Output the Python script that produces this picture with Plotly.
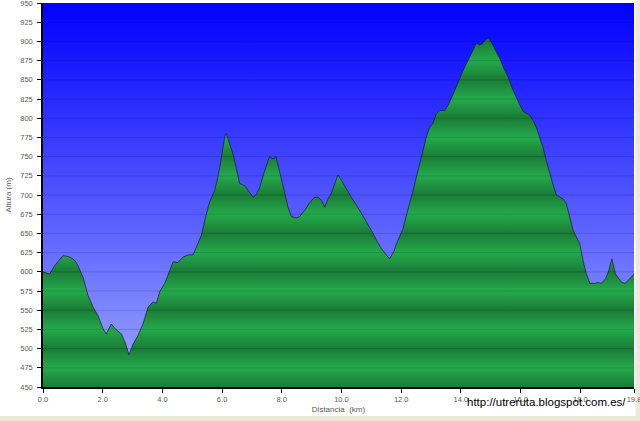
import plotly.graph_objects as go

# ---- data ----
distance_km = [0.0, 0.1, 0.22, 0.39, 0.55, 0.67, 0.84, 1.0, 1.1, 1.17, 1.34, 1.51, 1.68, 1.84,
               2.01, 2.12, 2.29, 2.44, 2.63, 2.77, 2.88, 3.02, 3.18, 3.35, 3.52, 3.69, 3.80,
               3.91, 4.08, 4.2, 4.36, 4.52, 4.69, 4.86, 5.03, 5.19, 5.31, 5.42, 5.58, 5.75,
               5.86, 5.98, 6.09, 6.14, 6.25, 6.39, 6.5, 6.59, 6.76, 6.87, 7.04, 7.15, 7.26,
               7.43, 7.59, 7.71, 7.80, 7.93, 8.1, 8.21, 8.32, 8.49, 8.6, 8.77, 8.93, 9.1,
               9.21, 9.33, 9.44, 9.55, 9.66, 9.77, 9.88, 10.0, 10.16, 10.33, 10.5, 10.67,
               10.83, 11.0, 11.17, 11.34, 11.48, 11.61, 11.75, 11.89, 12.06, 12.17, 12.28,
               12.4, 12.51, 12.62, 12.73, 12.84, 12.95, 13.06, 13.18, 13.29, 13.46, 13.57,
               13.68, 13.79, 13.96, 14.13, 14.3, 14.41, 14.52, 14.63, 14.72, 14.83, 14.92,
               15.02, 15.13, 15.3, 15.47, 15.58, 15.75, 15.91, 16.08, 16.3, 16.42, 16.53,
               16.64, 16.75, 16.86, 16.97, 17.09, 17.2, 17.31, 17.42, 17.53, 17.64, 17.76,
               17.87, 17.98, 18.09, 18.2, 18.32, 18.48, 18.59, 18.71, 18.85, 18.96, 19.06,
               19.17, 19.29, 19.4, 19.51, 19.6, 19.73, 19.8]
altitude_m = [600, 599, 597, 608, 616, 621, 620, 617, 613, 608, 593, 569, 554, 543,
              526, 519, 532, 525, 519, 506, 492, 506, 517, 532, 554, 561, 559,
              574, 585, 596, 613, 612, 619, 622, 622, 637, 648, 667, 691, 706,
              723, 750, 776, 780, 767, 750, 730, 715, 712, 706, 697, 701, 710,
              732, 750, 747, 750, 730, 703, 684, 672, 670, 672, 680, 690, 697,
              697, 693, 684, 695, 702, 715, 726, 719, 708, 697, 687, 676,
              665, 654, 641, 630, 623, 617, 626, 641, 656, 671, 689,
              706, 723, 741, 758, 775, 788, 793, 806, 810, 810, 817,
              826, 836, 852, 867, 880, 888, 898, 895, 897, 902, 904,
              899, 891, 878, 862, 854, 836, 823, 809, 804, 797, 788,
              776, 762, 745, 728, 713, 700, 697, 695, 689, 671, 654,
              645, 637, 615, 598, 585, 585, 586, 585, 591, 602, 617,
              598, 591, 586, 585, 589, 595, 597]

x_tickvals = [0, 2, 4, 6, 8, 10, 12, 14, 16, 18, 19.8]
x_ticktext = ["0.0", "2.0", "4.0", "6.0", "8.0", "10.0", "12.0", "14.0", "16.0", "18.0", "19.8"]
y_tickvals = list(range(450, 951, 25))

X_RANGE = [0, 19.8]
Y_RANGE = [450, 950]

# ---- styling ----
FONT = "Liberation Sans"
LABEL_COLOR = "#5a5a5a"
GREEN_DARK = "rgb(26,124,54)"
GREEN_LIGHT = "rgb(36,170,76)"
SKY_TOP = "rgb(0,0,255)"
SKY_BOTTOM = "rgb(158,168,255)"

W, H = 640, 421
ML, MR, MT, MB = 43, 6, 3, 34

span = Y_RANGE[1] - Y_RANGE[0]
band_scale = [[(v - Y_RANGE[0]) / span, GREEN_DARK if v % 50 == 0 else GREEN_LIGHT]
              for v in y_tickvals]

fig = go.Figure()

# sky background (gradient)
fig.add_trace(go.Scatter(
    x=[X_RANGE[0], X_RANGE[1], X_RANGE[1], X_RANGE[0], X_RANGE[0]],
    y=[Y_RANGE[0], Y_RANGE[0], Y_RANGE[1], Y_RANGE[1], Y_RANGE[0]],
    fill="toself", mode="none",
    fillgradient=dict(type="vertical", start=Y_RANGE[0], stop=Y_RANGE[1],
                      colorscale=[[0, SKY_BOTTOM], [1, SKY_TOP]]),
    hoverinfo="skip", showlegend=False))

# elevation profile
fig.add_trace(go.Scatter(
    x=distance_km, y=altitude_m, mode="lines", fill="tozeroy",
    fillgradient=dict(type="vertical", start=Y_RANGE[0], stop=Y_RANGE[1],
                      colorscale=band_scale),
    line=dict(color="rgba(25,30,25,0.8)", width=0.9),
    name="Altura", showlegend=False))

shapes = []
for v in y_tickvals[1:-1]:
    shapes.append(dict(type="line", xref="x", yref="y", x0=X_RANGE[0], x1=X_RANGE[1],
                       y0=v, y1=v, layer="above",
                       line=dict(color="rgba(0,0,60,0.15)", width=1)))

# window-frame strips (bottom and right)
pw = W - ML - MR
ph = H - MT - MB
frame = "rgb(236,233,218)"
shapes.append(dict(type="rect", xref="paper", yref="paper",
                   x0=-ML / pw, x1=(W - ML) / pw,
                   y0=-(MB) / ph, y1=-(MB - 5) / ph,
                   fillcolor=frame, line=dict(width=0), layer="below"))
shapes.append(dict(type="rect", xref="paper", yref="paper",
                   x0=(W - 4.5 - ML) / pw, x1=(W - ML) / pw,
                   y0=-(MB) / ph, y1=(H - MB) / ph,
                   fillcolor=frame, line=dict(width=0), layer="below"))

fig.update_layout(
    width=W, height=H,
    margin=dict(l=ML, r=MR, t=MT, b=MB, pad=0, autoexpand=False),
    paper_bgcolor="white", plot_bgcolor="white",
    font=dict(family=FONT, size=7.5, color=LABEL_COLOR),
    shapes=shapes,
    annotations=[dict(text="http://utreruta.blogspot.com.es/", xref="paper", yref="paper",
                      x=(546 - ML) / pw, y=-(402 - (H - MB)) / ph,
                      xanchor="center", yanchor="middle", showarrow=False,
                      font=dict(family=FONT, size=11.5, color="black"))],
)

fig.update_xaxes(range=X_RANGE, tickvals=x_tickvals, ticktext=x_ticktext,
                 ticks="outside", ticklen=4, tickcolor="black", tickwidth=1,
                 showline=True, linecolor="black", linewidth=1.5,
                 showgrid=False, zeroline=False, automargin=False,
                 ticklabeloverflow="allow",
                 title=dict(text="Distancia\u00a0\u00a0(km)", standoff=4,
                            font=dict(family=FONT, size=8, color=LABEL_COLOR)))
fig.update_yaxes(range=Y_RANGE, tickvals=y_tickvals,
                 ticks="outside", ticklen=4, tickcolor="black", tickwidth=1,
                 showline=True, linecolor="black", linewidth=1.5,
                 showgrid=False, zeroline=False, ticklabelstandoff=3, automargin=False,
                 ticklabeloverflow="allow",
                 title=dict(text="Altura\u00a0(m)", standoff=7,
                            font=dict(family=FONT, size=8, color=LABEL_COLOR)))

fig.write_html("out.html", config={"displayModeBar": False},
               post_script="document.body.style.margin='0';")
